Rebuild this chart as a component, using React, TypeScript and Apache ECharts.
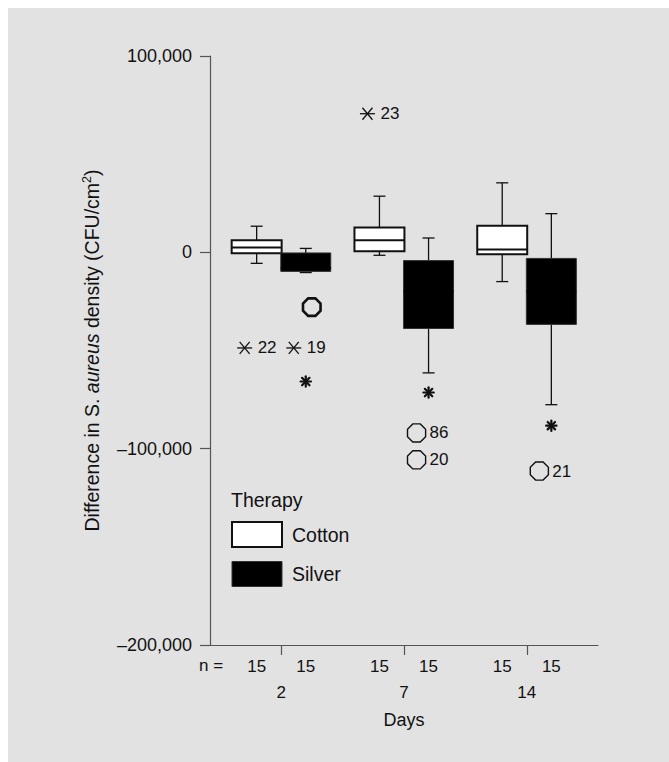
import React, { useEffect, useRef } from "react";
import * as echarts from "echarts";

// ---- data ----
const days = ["2", "7", "14"];
const nCotton = [15, 15, 15];
const nSilver = [15, 15, 15];

const cottonWhiskerLow = [-5600, -1500, -14900];
const cottonQ1 = [-500, 500, -1000];
const cottonMedian = [2500, 6100, 1500];
const cottonQ3 = [6100, 12700, 13600];
const cottonWhiskerHigh = [13300, 28600, 35400];

const silverWhiskerLow = [-10300, -61400, -77600];
const silverQ1 = [-9700, -38800, -36700];
const silverMedian = [-8000, -20000, -20000];
const silverQ3 = [-300, -4200, -3100];
const silverWhiskerHigh = [2000, 7300, 19700];

const outlierDay = [0, 0, 0, 0, 1, 1, 1, 1, 2, 2];
const outlierTherapy = ["Cotton", "Silver", "Silver", "Silver", "Cotton", "Silver", "Silver", "Silver", "Silver", "Silver"];
const outlierValue = [-48700, -48700, -27900, -65800, 70600, -71400, -92000, -105700, -88300, -111400];
const outlierKind = ["extreme", "extreme", "outlier", "star", "extreme", "star", "outlier", "outlier", "star", "outlier"];
const outlierLabel = ["22", "19", "", "", "23", "", "86", "20", "", "21"];

const yTicks = [-200000, -100000, 0, 100000];

// ---- styles ----
const FONT = "'Liberation Sans', Arial, Helvetica, sans-serif";
const TEXT = "#111";
const AXIS = "#555";
const OFFSET = 0.2;
const BOX_WIDTH = 0.407;

function boxRender(offset: number, fill: string, stroke: string, lw: number) {
  return (params: any, api: any) => {
    const x = api.value(0) + offset;
    const pLow = api.coord([x, api.value(1)]);
    const pQ1 = api.coord([x, api.value(2)]);
    const pMed = api.coord([x, api.value(3)]);
    const pQ3 = api.coord([x, api.value(4)]);
    const pHigh = api.coord([x, api.value(5)]);
    const w = api.size([BOX_WIDTH, 0])[0];
    const cx = pQ1[0];
    const cap = 6;
    const ls = { stroke: "#111", lineWidth: 1.3 };
    return {
      type: "group",
      children: [
        { type: "line", shape: { x1: cx, y1: pQ3[1], x2: cx, y2: pHigh[1] }, style: ls },
        { type: "line", shape: { x1: cx, y1: pQ1[1], x2: cx, y2: pLow[1] }, style: ls },
        { type: "line", shape: { x1: cx - cap, y1: pHigh[1], x2: cx + cap, y2: pHigh[1] }, style: ls },
        { type: "line", shape: { x1: cx - cap, y1: pLow[1], x2: cx + cap, y2: pLow[1] }, style: ls },
        {
          type: "rect",
          shape: { x: cx - w / 2, y: pQ3[1], width: w, height: pQ1[1] - pQ3[1] },
          style: { fill, stroke, lineWidth: lw },
        },
        {
          type: "line",
          shape: { x1: cx - w / 2, y1: pMed[1], x2: cx + w / 2, y2: pMed[1] },
          style: { stroke: fill === "#000" ? "#000" : "#111", lineWidth: 2 },
        },
      ],
    };
  };
}

function outlierRender(params: any, api: any) {
  const i = params.dataIndex;
  const x = api.value(0) + api.value(1) * OFFSET;
  const p = api.coord([x, api.value(2)]);
  const kind = outlierKind[i];
  const label = outlierLabel[i];
  const children: any[] = [];
  let mx = p[0];
  const my = p[1];
  if (label) mx = p[0] - 12;
  if (kind === "extreme") {
    const st = { stroke: "#111", lineWidth: 1.3 };
    children.push(
      { type: "line", shape: { x1: mx - 7.5, y1: my, x2: mx + 7.5, y2: my }, style: st },
      { type: "line", shape: { x1: mx - 5, y1: my - 6, x2: mx + 5, y2: my + 6 }, style: st },
      { type: "line", shape: { x1: mx - 5, y1: my + 6, x2: mx + 5, y2: my - 6 }, style: st }
    );
  } else if (kind === "star") {
    const st = { stroke: "#111", lineWidth: 2.2, lineCap: "round" };
    const r = 5.2;
    const d = 3.7;
    children.push(
      { type: "line", shape: { x1: mx, y1: my - r, x2: mx, y2: my + r }, style: st },
      { type: "line", shape: { x1: mx - r, y1: my, x2: mx + r, y2: my }, style: st },
      { type: "line", shape: { x1: mx - d, y1: my - d, x2: mx + d, y2: my + d }, style: st },
      { type: "line", shape: { x1: mx - d, y1: my + d, x2: mx + d, y2: my - d }, style: st }
    );
  } else {
    const bold = !label;
    if (bold) mx = p[0] + 6;
    const r = bold ? 9.5 : 9.8;
    const pts: number[][] = [];
    for (let k = 0; k < 8; k++) {
      const a = ((k * 45 + 22.5) * Math.PI) / 180;
      pts.push([mx + r * Math.cos(a), my + r * Math.sin(a)]);
    }
    children.push({
      type: "polygon",
      shape: { points: pts },
      style: { fill: "none", stroke: "#111", lineWidth: bold ? 2.6 : 1.4 },
    });
  }
  if (label) {
    children.push({
      type: "text",
      x: p[0] + 1,
      y: my,
      style: { text: label, fontSize: 17, fontFamily: FONT, fill: TEXT, align: "left", verticalAlign: "middle" },
    });
  }
  return { type: "group", children };
}

function nRender(params: any, api: any) {
  const x = api.value(0) + api.value(1) * OFFSET;
  const p = api.coord([x, yTicks[0]]);
  return {
    type: "text",
    x: p[0],
    y: p[1] + 21,
    style: { text: String(api.value(2)), fontSize: 17, fontFamily: FONT, fill: TEXT, align: "center", verticalAlign: "middle" },
  };
}

export default function App() {
  const ref = useRef<HTMLDivElement>(null);
  useEffect(() => {
    if (!ref.current) return;
    const chart = echarts.init(ref.current, null, { renderer: "svg" });
    const cottonData = days.map((_, i) => [i, cottonWhiskerLow[i], cottonQ1[i], cottonMedian[i], cottonQ3[i], cottonWhiskerHigh[i]]);
    const silverData = days.map((_, i) => [i, silverWhiskerLow[i], silverQ1[i], silverMedian[i], silverQ3[i], silverWhiskerHigh[i]]);
    const outData = outlierValue.map((v, i) => [outlierDay[i], outlierTherapy[i] === "Cotton" ? -1 : 1, v]);
    const nData: number[][] = [];
    days.forEach((_, i) => {
      nData.push([i, -1, nCotton[i]]);
      nData.push([i, 1, nSilver[i]]);
    });
    chart.setOption({
      animation: false,
      backgroundColor: "#e2e2e2",
      textStyle: { fontFamily: FONT },
      grid: { left: 202, top: 48, right: 71, bottom: 117, containLabel: false },
      title: {
        text: "Therapy",
        left: 223,
        top: 482,
        padding: 0,
        textStyle: { fontSize: 19.5, fontWeight: "normal", color: TEXT, fontFamily: FONT },
      },
      legend: {
        orient: "vertical",
        left: 223,
        top: 513,
        padding: 0,
        itemWidth: 50,
        itemHeight: 25,
        itemGap: 13,
        icon: "rect",
        textStyle: { fontSize: 19.5, color: TEXT, fontFamily: FONT, padding: [0, 0, 0, 5] },
        data: [
          { name: "Cotton", itemStyle: { color: "#fff", borderColor: "#111", borderWidth: 2 } },
          { name: "Silver", itemStyle: { color: "#000", borderColor: "#333", borderWidth: 1 } },
        ],
      },
      graphic: [
        {
          type: "text",
          left: 191,
          top: 649,
          style: { text: "n =", fontSize: 17, fontFamily: FONT, fill: TEXT },
        },
      ],
      xAxis: {
        type: "value",
        min: -0.58,
        max: 2.58,
        name: "Days",
        nameLocation: "middle",
        nameGap: 66,
        nameTextStyle: { fontSize: 18, color: TEXT, fontFamily: FONT },
        axisLine: { show: true, onZero: false, lineStyle: { color: AXIS, width: 1.2 } },
        axisTick: { show: true, customValues: [0, 1, 2], length: 10, lineStyle: { color: AXIS, width: 1.2 } },
        axisLabel: {
          customValues: [0, 1, 2],
          formatter: (v: number) => days[Math.round(v)],
          margin: 39,
          fontSize: 17,
          color: TEXT,
          fontFamily: FONT,
        },
        splitLine: { show: false },
      },
      yAxis: {
        type: "value",
        min: -200000,
        max: 100000,
        interval: 100000,
        name: "Difference in S. {i|aureus} density (CFU/cm{sup|2})",
        nameLocation: "middle",
        nameGap: 107,
        nameTextStyle: {
          fontSize: 19.5,
          color: TEXT,
          fontFamily: FONT,
          rich: {
            i: { fontSize: 19.5, fontStyle: "italic", color: TEXT, fontFamily: FONT },
            sup: { fontSize: 12.5, color: TEXT, fontFamily: FONT, padding: [0, 0, 10, 0] },
          },
        },
        axisLine: { show: true, onZero: false, lineStyle: { color: AXIS, width: 1.2 } },
        axisTick: { show: true, length: 10, lineStyle: { color: AXIS, width: 1.2 } },
        axisLabel: {
          margin: 18,
          fontSize: 18,
          color: TEXT,
          fontFamily: FONT,
          formatter: (v: number) => (v === 0 ? "0" : (v < 0 ? "–" : "") + Math.abs(v).toLocaleString("en-US")),
        },
        splitLine: { show: false },
      },
      series: [
        {
          name: "Cotton",
          type: "custom",
          clip: false,
          itemStyle: { color: "#fff", borderColor: "#111", borderWidth: 2 },
          renderItem: boxRender(-OFFSET, "#fff", "#111", 2),
          encode: { x: 0, y: [1, 2, 3, 4, 5] },
          data: cottonData,
          z: 2,
        },
        {
          name: "Silver",
          type: "custom",
          clip: false,
          itemStyle: { color: "#000", borderColor: "#333", borderWidth: 1 },
          renderItem: boxRender(OFFSET, "#000", "#333", 1),
          encode: { x: 0, y: [1, 2, 3, 4, 5] },
          data: silverData,
          z: 3,
        },
        {
          name: "outliers",
          type: "custom",
          clip: false,
          renderItem: outlierRender,
          encode: { x: 0, y: 2 },
          data: outData,
          z: 4,
        },
        {
          name: "n",
          type: "custom",
          clip: false,
          renderItem: nRender,
          encode: { x: 0 },
          data: nData,
          z: 4,
        },
      ],
    });
    return () => chart.dispose();
  }, []);
  return (
    <div
      ref={ref}
      style={{ position: "fixed", left: 8, top: 8, width: 661, height: 754, background: "#e2e2e2" }}
    />
  );
}
